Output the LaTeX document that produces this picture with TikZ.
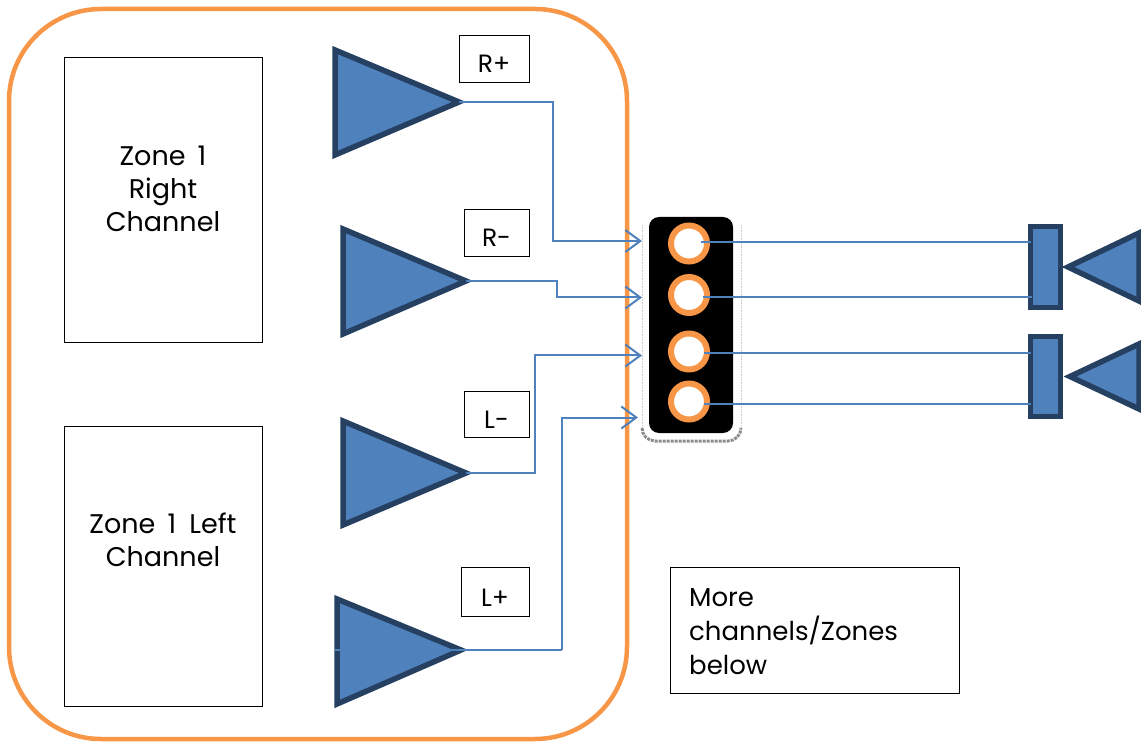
\documentclass[tikz,border=0pt]{standalone}
\usepackage{fontspec}
\setmainfont{Poppins}
\usetikzlibrary{arrows.meta}
\definecolor{ampfill}{HTML}{4F81BD}
\definecolor{ampline}{HTML}{254061}
\definecolor{caseline}{HTML}{F79646}
\tikzset{
	amp/.style={draw=ampline,fill=ampfill,line width=5.5pt,miter limit=10},
	wire/.style={draw=ampfill,line width=2pt},
	wirein/.style={wire,-{Straight Barb[length=15pt,width=22pt,line width=2pt]}},
	zonebox/.style={draw,line width=0.9pt,inner sep=0pt,align=center,outer sep=0pt,font=\fontsize{27}{33}\selectfont},
	signbox/.style={draw,line width=0.9pt,inner sep=0pt,outer sep=0pt,text height=29pt,text depth=0pt,font=\fontsize{25}{30}\selectfont},
	jack/.style={circle,draw=caseline,fill=white,line width=6pt,minimum size=36pt,inner sep=0pt,outer sep=0pt}
}
\begin{document}
\begin{tikzpicture}[x=1pt,y=-1pt]
	\useasboundingbox (0,0) rectangle (1141,743);
	
	%The case round the zone
	\draw[caseline,line width=4.5pt,rounded corners=92pt] (9,9) rectangle (627,739);
	
	%Zone boxes
	\node[zonebox,minimum width=198pt,minimum height=285pt] (zoneR) at (163,199.5) {Zone\hspace{5pt} 1\\Right\\Channel\\[-11pt]};
	\node[zonebox,minimum width=198pt,minimum height=280pt] (zoneL) at (163,566) {Zone\hspace{5pt} 1\hspace{6pt} Left\\Channel\\[19pt]};
	
	%Amplifiers, tips named for the wires
	\draw[amp] (335,50) -- (335,155) -- (459,102) coordinate (tipRp) -- cycle;
	\draw[amp] (343,229) -- (343,334) -- (466,281) coordinate (tipRm) -- cycle;
	\draw[amp] (343,421) -- (343,525) -- (466,473) coordinate (tipLm) -- cycle;
	\draw[amp] (337,599) -- (337,704) -- (461,650) coordinate (tipLp) -- cycle;
	
	%Signal labels
	\node[signbox,minimum width=70pt,minimum height=47pt] (signRp) at (494,58.5) {R+};
	\node[signbox,minimum width=65pt,minimum height=47pt] (signRm) at (496.5,232.5) {R-};
	\node[signbox,minimum width=65pt,minimum height=46pt] (signLm) at (496.5,414) {L-};
	\node[signbox,minimum width=68pt,minimum height=49pt] (signLp) at (495,591.5) {L+};
	
	%Connector block with its shadow edge
	\draw[gray!40,line width=0.6pt,densely dotted] (642,225) -- (642,428);
	\draw[gray!40,line width=0.6pt,densely dotted] (741,225) -- (741,428);
	\draw[black!45,line width=3pt,densely dotted] (642,428) arc (180:90:13) -- (728,441) arc (90:0:13);
	\node[fill=black,rounded corners=10pt,minimum width=84pt,minimum height=216pt,inner sep=0pt,outer sep=0pt] (block) at (691,325) {};
	\node[jack] (jackA) at (689,243.5) {};
	\node[jack] (jackB) at (689,295) {};
	\node[jack] (jackC) at (689,351.5) {};
	\node[jack] (jackD) at (689,401.5) {};
	
	%Wire ends at the block
	\coordinate (inRp) at (642,241);
	\coordinate (inRm) at (642,297.5);
	\coordinate (inLm) at (642,355.5);
	\coordinate (inLp) at (638,417.5);
	
	%Wires into the block
	\draw[wirein] (tipRp) -- (553,102) |- (inRp);
	\draw[wirein] (tipRm) -- (557,281) |- (inRm);
	\draw[wirein] (tipLm) -- (535,473) |- (inLm);
	\draw[wire] (335,649.5) -- (562,649.5);
	\draw[wirein] (562,649.5) |- (inLp);
	
	%Speakers at the far side
	\node[amp,rectangle,minimum width=30pt,minimum height=81pt,inner sep=0pt,outer sep=0pt] (spkA) at (1045.5,267) {};
	\node[amp,rectangle,minimum width=30pt,minimum height=80pt,inner sep=0pt,outer sep=0pt] (spkB) at (1045.5,376.5) {};
	\draw[amp] (1139,233) -- (1139,301) -- (1068,267) -- cycle;
	\draw[amp] (1139,344) -- (1139,409) -- (1070,376.5) -- cycle;
	
	%Wires out of the block
	\draw[wire] ([shift={(-6,-1)}]jackA.east) -- (spkA.west |- 0,242.5);
	\draw[wire] ([shift={(-4,2.5)}]jackB.east) -- (1032,297.5);
	\draw[wire] ([shift={(-3,1.5)}]jackC.east) -- (spkB.west |- 0,353);
	\draw[wire] ([shift={(-3,2.5)}]jackD.east) -- (spkB.west |- 0,404);
	
	%Note on the other zones
	\node[signbox,minimum width=289pt,minimum height=126pt] (noteMore) at (814.5,630) {};
	\node[anchor=north west,inner sep=0pt,align=left,font=\fontsize{26}{34}\selectfont] (noteText) at (689,588) {More\\channels/Zones\\below};
\end{tikzpicture}
\end{document}
